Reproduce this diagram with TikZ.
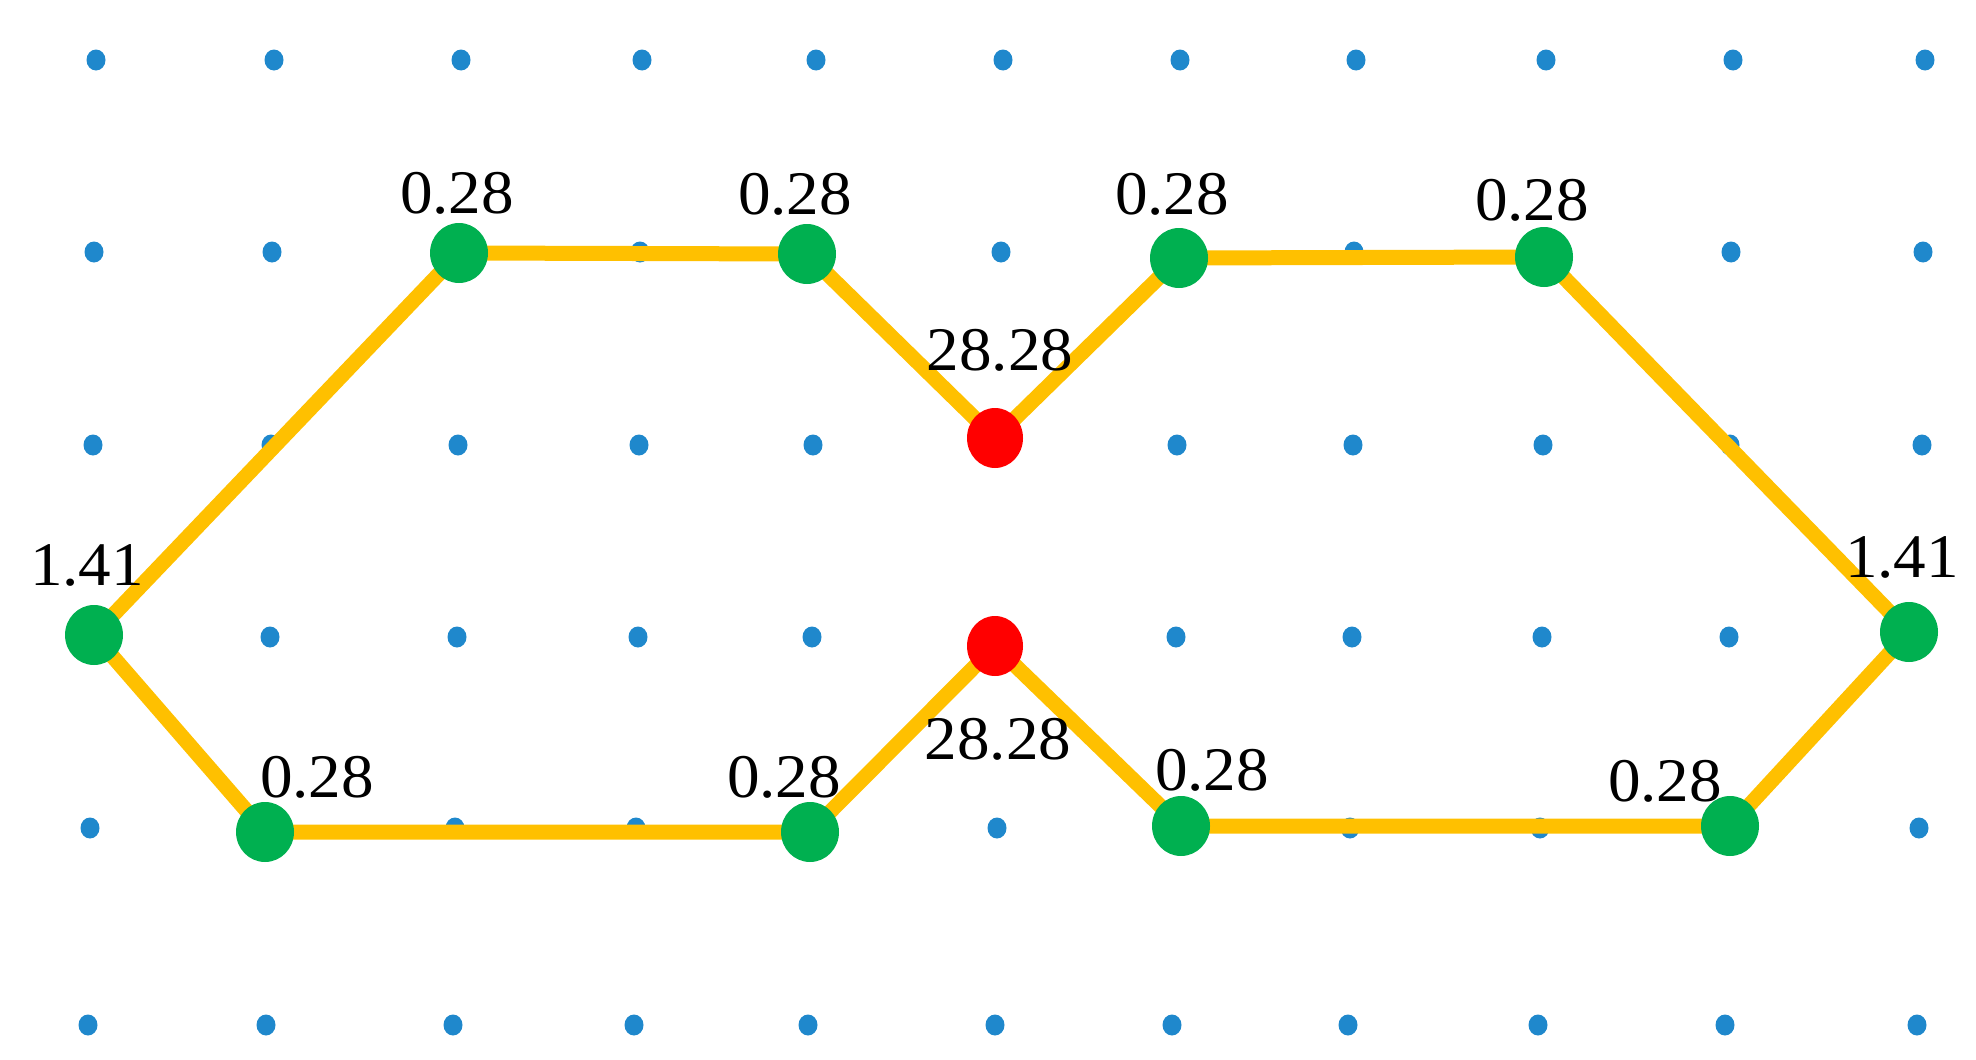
\documentclass[tikz,border=0pt]{standalone}
\usepackage{fontspec}
\usetikzlibrary{shapes.geometric}
\setmainfont{Liberation Serif}
\newfontfamily\lblfont[FakeStretch=1.05]{Liberation Serif}
\definecolor{dotblue}{RGB}{31,136,204}
\definecolor{pathgold}{RGB}{255,192,0}
\definecolor{nodegreen}{RGB}{0,176,80}
\definecolor{nodered}{RGB}{255,0,0}
\begin{document}
\begin{tikzpicture}[x=0.5pt,y=-0.5pt,
  griddot/.style={ellipse,fill=dotblue,inner sep=0pt,minimum width=9.5pt,minimum height=10.5pt},
  gnode/.style={ellipse,fill=nodegreen,inner sep=0pt,minimum width=29pt,minimum height=30pt},
  rnode/.style={ellipse,fill=nodered,inner sep=0pt,minimum width=28pt,minimum height=30pt},
  route/.style={draw=pathgold,line width=7.5pt,line join=round},
  lbl/.style={anchor=base,inner sep=0pt,font=\lblfont\fontsize{31}{36}\selectfont}]
\useasboundingbox (0,0) rectangle (1976,1060);
% grid of dots
\foreach \r/\y/\s in {1/60/4,2/252/2,3/445/1,4/637/0,5/828/-2,6/1025/-4}{
  \foreach \c/\x in {1/92,2/270,3/457,4/638,5/812,6/999,7/1176,8/1352,9/1542,10/1729,11/1921}{
    \node[griddot] (d\r-\c) at (\x+\s,\y) {};
  }
}
% path nodes
\coordinate (L) at (94,635);
\coordinate (A) at (459,253);
\coordinate (B) at (807,254);
\coordinate (RU) at (995,438);
\coordinate (C) at (1179,258);
\coordinate (D) at (1544,257);
\coordinate (R) at (1909,632);
\coordinate (E) at (1730,826);
\coordinate (F) at (1181,826);
\coordinate (RL) at (995,646);
\coordinate (G) at (810,832);
\coordinate (H) at (265,832);
\draw[route] (L) -- (A) -- (B) -- (RU) -- (C) -- (D) -- (R) -- (E) -- (F) -- (RL) -- (G) -- (H) -- cycle;
\node[gnode] (nL) at (L) {};
\node[gnode] (nA) at (A) {};
\node[gnode] (nB) at (B) {};
\node[rnode] (nRU) at (RU) {};
\node[gnode] (nC) at (C) {};
\node[gnode] (nD) at (D) {};
\node[gnode] (nR) at (R) {};
\node[gnode] (nE) at (E) {};
\node[gnode] (nF) at (F) {};
\node[rnode] (nRL) at (RL) {};
\node[gnode] (nG) at (G) {};
\node[gnode] (nH) at (H) {};
% labels
\node[lbl] (tA) at (457,213) {0.28};
\node[lbl] (tB) at (795,214) {0.28};
\node[lbl] (tC) at (1172,214) {0.28};
\node[lbl] (tD) at (1532,220) {0.28};
\node[lbl] (tRU) at (1000,370) {28.28};
\node[lbl] (tL) at (87,585) {1.41};
\node[lbl] (tR) at (1902,577) {1.41};
\node[lbl] (tH) at (317,797) {0.28};
\node[lbl] (tG) at (784,797) {0.28};
\node[lbl] (tRL) at (998,759) {28.28};
\node[lbl] (tF) at (1212,790) {0.28};
\node[lbl] (tE) at (1665,801) {0.28};
\end{tikzpicture}
\end{document}
